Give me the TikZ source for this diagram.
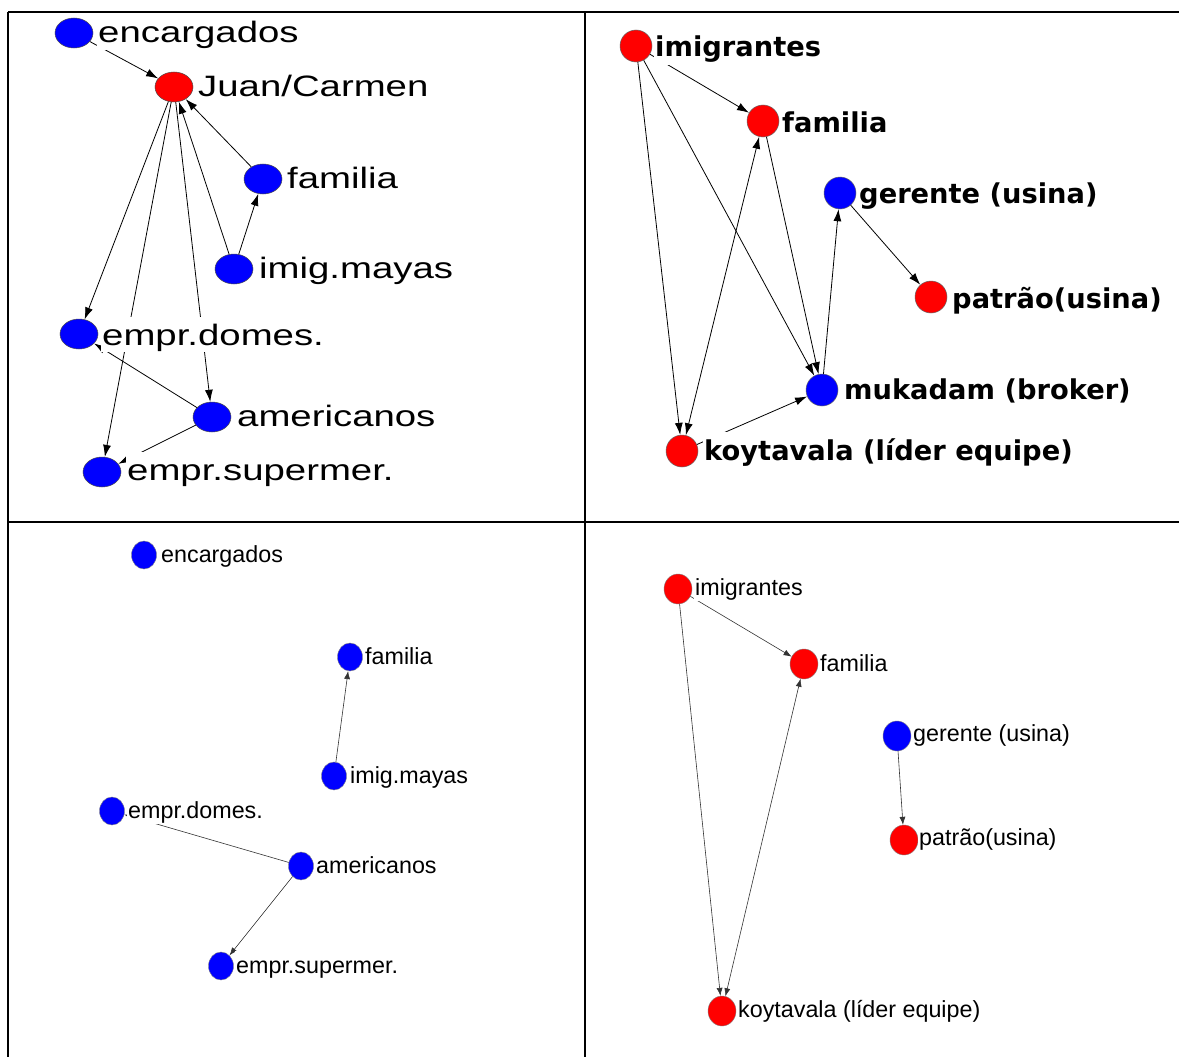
\documentclass[tikz,border=0pt]{standalone}
\usepackage{fontspec}
\usepackage{graphicx}
\usetikzlibrary{shapes.geometric,arrows.meta}
\newfontfamily\arialfont{Liberation Sans}
\newfontfamily\boldfont{DejaVu Sans Bold}
\definecolor{nodeblue}{RGB}{0,0,255}
\definecolor{nodered}{RGB}{255,0,0}
\newcommand{\stretchtxt}[1]{\scalebox{1.3}[1]{#1}}
\tikzset{
  % network vertices
  bigv/.style={ellipse, minimum width=38pt, minimum height=30pt, inner sep=0pt, draw=black!70, line width=0.5pt},
  roundv/.style={circle, minimum size=32pt, inner sep=0pt, draw=black!60, line width=0.5pt},
  smallv/.style={ellipse, minimum width=25pt, minimum height=28pt, inner sep=0pt, draw=black!50, line width=0.4pt},
  midv/.style={ellipse, minimum width=28pt, minimum height=30pt, inner sep=0pt, draw=black!50, line width=0.4pt},
  bluev/.style={fill=nodeblue},
  redv/.style={fill=nodered},
  % vertex labels on opaque white boxes
  lablarge/.style={anchor=base west, fill=white, inner xsep=1pt, inner ysep=1pt, text height=27pt, text depth=6pt, font=\arialfont\fontsize{29.5}{30}\selectfont},
  labbold/.style={anchor=base west, fill=white, inner xsep=1pt, inner ysep=1pt, text height=27pt, text depth=7pt, font=\boldfont\fontsize{27.3}{28}\selectfont},
  labsmall/.style={anchor=base west, fill=white, inner xsep=1pt, inner ysep=1pt, text height=21pt, text depth=5pt, font=\arialfont\fontsize{23.3}{24}\selectfont},
  % ties
  tiebig/.style={draw=black, line width=0.8pt, -{Latex[length=12pt,width=8pt]}},
  tiebigboth/.style={draw=black, line width=0.8pt, {Latex[length=12pt,width=8pt]}-{Latex[length=12pt,width=8pt]}},
  tiesmall/.style={draw=black!80, line width=0.6pt, -{Latex[length=8pt,width=6pt]}},
  tiesmallboth/.style={draw=black!80, line width=0.6pt, {Latex[length=8pt,width=6pt]}-{Latex[length=8pt,width=6pt]}},
  frameline/.style={draw=black, line width=2.4pt}
}
\begin{document}
\begin{tikzpicture}[x=1pt,y=-1pt]
\useasboundingbox (0,0) rectangle (1179,1057);
\fill[white] (0,0) rectangle (1179,1057);

% panel grid
\draw[frameline] (8,12) -- (1179,12);
\draw[frameline] (8,12) -- (8,1057);
\draw[frameline] (8,522) -- (1179,522);
\draw[frameline] (585,12) -- (585,1057);

% ---------- upper left network ----------
\node[bigv,bluev] (a1) at (74,33) {};
\node[bigv,redv]  (a2) at (174,87) {};
\node[bigv,bluev] (a3) at (263,179) {};
\node[bigv,bluev] (a4) at (234,269) {};
\node[bigv,bluev] (a5) at (79,334) {};
\node[bigv,bluev] (a6) at (212,417) {};
\node[bigv,bluev] (a7) at (102,472) {};

\draw[tiebig] (a1) -- (a2);
\draw[tiebig] (a3) -- (a2);
\draw[tiebig] (a4) -- (a2);
\draw[tiebig] (a4) -- (a3);
\draw[tiebig] (a2) -- (a5);
\draw[tiebig] (a2) -- (a7);
\draw[tiebig] (a2) -- (a6);
\draw[tiebig] (a6) -- (a5);
\draw[tiebig] (a6) -- (a7);

\node[lablarge] (la1) at (97,43)  {\stretchtxt{encargados}};
\node[lablarge] (la2) at (197,96) {\stretchtxt{Juan/Carmen}};
\node[lablarge] (la3) at (286,188) {\stretchtxt{familia}};
\node[lablarge] (la4) at (258,278) {\stretchtxt{imig.mayas}};
\node[lablarge] (la5) at (101,345) {\stretchtxt{empr.domes.}};
\node[lablarge] (la6) at (236,426) {\stretchtxt{americanos}};
\node[lablarge] (la7) at (126,480) {\stretchtxt{empr.supermer.}};

% ---------- upper right network ----------
\node[roundv,redv]  (b1) at (636,46) {};
\node[roundv,redv]  (b2) at (763,121) {};
\node[roundv,bluev] (b3) at (840,193) {};
\node[roundv,redv]  (b4) at (931,297) {};
\node[roundv,bluev] (b5) at (822,390) {};
\node[roundv,redv]  (b6) at (682,451) {};

\draw[tiebig] (b1) -- (b2);
\draw[tiebig] (b1) -- (b6);
\draw[tiebig] (b1) -- (b5);
\draw[tiebig] (b2) -- (b5);
\draw[tiebigboth] (b6) -- (b2);
\draw[tiebig] (b6) -- (b5);
\draw[tiebig] (b5) -- (b3);
\draw[tiebig] (b3) -- (b4);

\node[labbold] (lb1) at (654,57)  {imigrantes};
\node[labbold] (lb2) at (781,132) {familia};
\node[labbold] (lb3) at (858,203) {gerente (usina)};
\node[labbold] (lb4) at (951,308) {patrão(usina)};
\node[labbold] (lb5) at (843,399) {mukadam (broker)};
\node[labbold] (lb6) at (703,460) {koytavala (líder equipe)};

% ---------- lower left network ----------
\node[smallv,bluev] (c1) at (144,555) {};
\node[smallv,bluev] (c2) at (350,657) {};
\node[smallv,bluev] (c3) at (334,776) {};
\node[smallv,bluev] (c4) at (112,811) {};
\node[smallv,bluev] (c5) at (301,866) {};
\node[smallv,bluev] (c6) at (221,966) {};

\draw[tiesmall] (c3) -- (c2);
\draw[tiesmall] (c5) -- (c4);
\draw[tiesmall] (c5) -- (c6);

\node[labsmall] (lc1) at (160,562) {encargados};
\node[labsmall] (lc2) at (364,664) {familia};
\node[labsmall] (lc3) at (349,783) {imig.mayas};
\node[labsmall] (lc4) at (127,818) {empr.domes.};
\node[labsmall] (lc5) at (315,873) {americanos};
\node[labsmall] (lc6) at (235,973) {empr.supermer.};

% ---------- lower right network ----------
\node[midv,redv]  (d1) at (678,589) {};
\node[midv,redv]  (d2) at (804,664) {};
\node[midv,bluev] (d3) at (897,736) {};
\node[midv,redv]  (d4) at (904,840) {};
\node[midv,redv]  (d5) at (722,1011) {};

\draw[tiesmall] (d1) -- (d2);
\draw[tiesmall] (d1) -- (d5);
\draw[tiesmallboth] (d5) -- (d2);
\draw[tiesmall] (d3) -- (d4);

\node[labsmall] (ld1) at (694,595)  {imigrantes};
\node[labsmall] (ld2) at (819,671)  {familia};
\node[labsmall] (ld3) at (912,741)  {gerente (usina)};
\node[labsmall] (ld4) at (918,845)  {patrão(usina)};
\node[labsmall] (ld5) at (737,1017) {koytavala (líder equipe)};
\end{tikzpicture}
\end{document}
